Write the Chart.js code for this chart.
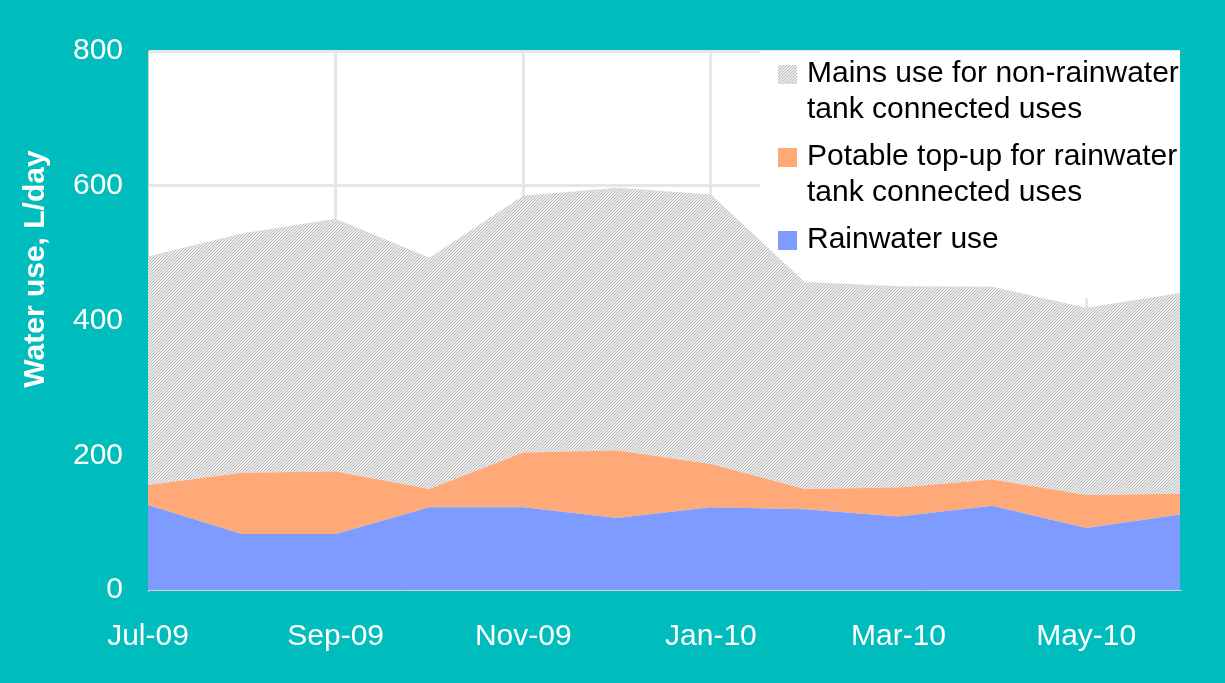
<!DOCTYPE html>
<html>
<head>
<meta charset="utf-8">
<script src="https://cdn.jsdelivr.net/npm/chart.js@4.4.1/dist/chart.umd.min.js"></script>
<style>
  body { margin: 0; background: #00BDBD; }
  canvas { display: block; }
</style>
</head>
<body>
<canvas id="chart" width="1225" height="683"></canvas>
<script>
const months = ['Jul-09', 'Aug-09', 'Sep-09', 'Oct-09', 'Nov-09', 'Dec-09',
                'Jan-10', 'Feb-10', 'Mar-10', 'Apr-10', 'May-10', 'Jun-10'];
const rainwater = [126, 83, 83, 123, 123, 107, 123, 120, 109, 125, 92, 112];
const potable = [30, 91, 93, 27, 81, 100, 64, 30, 43, 39, 49, 31];
const mains = [339, 355, 375, 343, 381, 390, 400, 307, 299, 286, 278, 298];
const yTicks = [0, 200, 400, 600, 800];

const legendLines = [
  ['Mains use for non-rainwater', 'tank connected uses'],
  ['Potable top-up for rainwater', 'tank connected uses'],
  ['Rainwater use']
];

function hatch() {
  let c = document.createElement('canvas')
  c.width = 3; c.height = 3
  let g = c.getContext('2d')
  g.fillStyle = '#ececec'
  g.fillRect(0, 0, 3, 3)
  g.fillStyle = '#bababa'
  g.fillRect(0, 2, 1, 1)
  g.fillRect(1, 1, 1, 1)
  g.fillRect(2, 0, 1, 1)
  return g.createPattern(c, 'repeat')
}

const ctx = document.getElementById('chart').getContext('2d')
const mainsFill = hatch()
const potableFill = '#FFA878'
const rainFill = '#7E9CFF'
const font = '"Liberation Sans", Arial, sans-serif'

const decor = {
  id: 'decor',
  beforeDraw(chart) {
    const a = chart.chartArea, c = chart.ctx
    c.save()
    c.fillStyle = '#ffffff'
    c.fillRect(a.left, a.top, a.right - a.left, a.bottom - a.top)
    c.restore()
  },
  beforeDatasetsDraw(chart) {
    const a = chart.chartArea, c = chart.ctx
    c.save()
    c.fillStyle = '#ffffff'
    c.fillRect(a.right - 420, a.top, 420, 247)
    c.restore()
  },
  afterDatasetsDraw(chart) {
    const a = chart.chartArea, c = chart.ctx
    const fills = [mainsFill, potableFill, rainFill]
    c.save()
    c.beginPath()
    c.rect(a.left, a.top, a.right - a.left, a.bottom - a.top)
    c.clip()
    c.font = '30px ' + font
    c.textBaseline = 'middle'
    c.textAlign = 'left'
    legendLines.forEach((lines, i) => {
      const y0 = a.top + 23 + i * 83
      c.fillStyle = fills[i]
      c.fillRect(a.right - 402, y0 - 9, 19, 19)
      c.fillStyle = '#000000'
      lines.forEach((t, j) => c.fillText(t, a.right - 373, y0 + j * 35.5))
    })
    c.restore()

    // y axis title
    c.save()
    c.translate(36, 269)
    c.rotate(-Math.PI / 2)
    c.font = 'bold 30px ' + font
    c.fillStyle = '#ffffff'
    c.textAlign = 'center'
    c.textBaseline = 'middle'
    c.fillText('Water use, L/day', 0, 0)
    c.restore()
  }
}

new Chart(ctx, {
  type: 'line',
  data: {
    labels: months,
    datasets: [
      { label: 'Rainwater use', data: rainwater, backgroundColor: rainFill, fill: 'origin' },
      { label: 'Potable top-up for rainwater tank connected uses', data: potable, backgroundColor: potableFill, fill: '-1' },
      { label: 'Mains use for non-rainwater tank connected uses', data: mains, backgroundColor: mainsFill, fill: '-1' }
    ]
  },
  options: {
    responsive: false,
    animation: false,
    layout: { padding: { top: 51, right: 45, left: 0, bottom: 0 } },
    elements: {
      point: { radius: 0 },
      line: { borderWidth: 0, tension: 0, borderColor: 'transparent' }
    },
    scales: {
      x: {
        offset: false,
        grid: {
          drawTicks: false,
          lineWidth: 3,
          color: (c) => (c.index % 2 === 0 && c.index > 0) ? '#e6e6e6' : 'transparent'
        },
        border: { color: '#d0d0d0', width: 1 },
        ticks: {
          autoSkip: false,
          maxRotation: 0,
          padding: 29,
          color: '#ffffff',
          font: { size: 30, family: font },
          callback: (v, i) => i % 2 === 0 ? months[i] : ''
        },
        afterFit: (s) => { s.height = 93 }
      },
      y: {
        stacked: true,
        min: 0,
        max: 800,
        afterBuildTicks: (s) => { s.ticks = yTicks.map(v => ({ value: v })) },
        grid: {
          drawTicks: false,
          lineWidth: 3,
          color: (c) => c.tick && c.tick.value > 0 ? '#e6e6e6' : 'transparent'
        },
        border: { color: '#d0d0d0', width: 1 },
        ticks: {
          padding: 25,
          color: '#ffffff',
          font: { size: 30, family: font }
        },
        afterFit: (s) => { s.width = 148 }
      }
    },
    plugins: {
      legend: { display: false },
      tooltip: { enabled: false }
    }
  },
  plugins: [decor]
});
</script>
</body>
</html>
